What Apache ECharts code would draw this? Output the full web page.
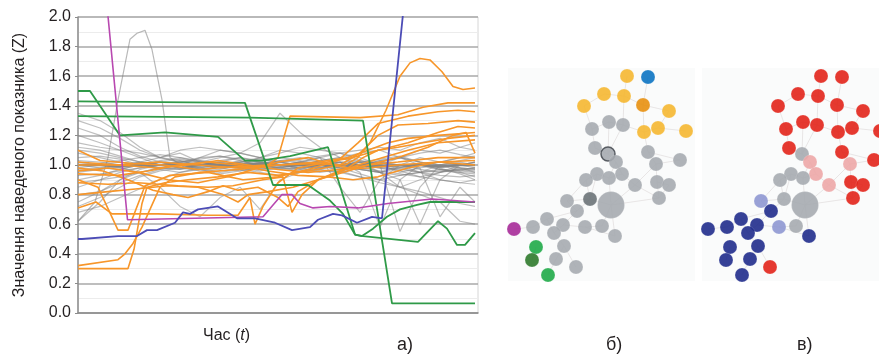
<!DOCTYPE html>
<html><head><meta charset="utf-8">
<script src="https://cdn.jsdelivr.net/npm/echarts@6/dist/echarts.min.js"></script>
<style>html,body{margin:0;padding:0;background:#fff}#c{width:879px;height:356px}</style>
</head><body><div id="c"></div>
<script>
// ---------- panel a) : time series ----------
const hours = [0,22,42,62,82,102,122,142,162,182,202,222,242,262,282,302,322,342,362,382,397];
const grayCentre = [1.0,1.0,0.99,1.0,1.0,1.0,1.0,1.0,1.0,1.01,1.0,1.0,1.0,1.0,1.0,0.99,1.0,1.0,0.99,1.0,1.0];
const grayLines = [
 [1.35,1.3,1.22,1.12,1.05,1.02,1.0,1.03,1.05,1.02,1.0,0.98,1.0,1.02,1.0,0.98,0.97,0.95,0.96,0.95,0.94],
 [1.30,1.25,1.18,1.10,1.05,1.08,1.02,1.0,0.98,1.0,1.03,1.05,1.02,1.0,1.0,1.03,1.05,1.02,1.0,0.98,0.97],
 [1.25,1.2,1.12,1.06,1.02,1.0,1.05,1.1,1.08,1.05,1.1,1.08,1.05,1.0,0.98,1.02,1.0,1.05,1.02,1.0,1.02],
 [1.2,1.15,1.1,1.08,1.05,1.03,1.0,0.98,1.0,1.05,1.02,1.0,1.03,1.05,1.08,1.1,1.05,1.0,1.02,1.05,1.06],
 [1.15,1.12,1.1,1.05,1.0,0.98,1.0,1.02,1.0,0.97,0.98,1.0,1.02,1.0,0.97,0.95,0.98,1.0,0.97,0.96,0.98],
 [1.1,1.08,1.05,1.02,1.0,1.02,1.05,1.06,1.03,1.0,0.98,0.96,0.98,1.0,1.02,1.0,0.98,0.95,0.93,0.92,0.93],
 [1.05,1.06,1.04,1.0,0.98,0.97,0.99,1.0,1.02,1.05,1.08,1.12,1.1,1.08,1.05,1.0,0.96,0.92,0.9,0.88,0.9],
 [0.95,0.97,1.0,1.02,1.05,1.1,1.12,1.1,1.08,1.05,1.0,1.02,1.05,1.08,1.03,1.0,1.05,1.08,1.1,1.07,1.05],
 [0.9,0.93,0.97,1.0,1.02,1.0,0.98,0.95,0.97,1.0,1.02,1.0,0.97,0.95,0.92,0.9,0.93,0.95,0.9,0.88,0.87],
 [0.85,0.9,0.95,0.98,1.0,1.03,1.0,0.98,0.96,0.98,1.0,0.97,0.95,0.97,1.0,1.02,1.0,0.98,1.0,1.02,1.0],
 [0.8,0.82,0.88,0.93,0.97,1.0,1.02,1.0,0.97,0.95,0.93,0.95,0.97,1.0,0.98,0.96,0.94,0.92,0.95,0.97,0.96],
 [0.72,0.78,0.85,0.92,0.96,0.98,1.0,1.02,1.05,1.03,1.0,0.98,1.0,0.96,0.92,0.88,0.85,0.9,0.95,1.0,1.02],
 [0.62,0.75,0.9,0.95,0.98,1.0,0.97,0.94,0.96,0.99,1.0,1.02,0.99,0.97,1.0,1.03,1.05,1.02,1.0,1.03,1.05],
 [1.02,1.0,0.98,0.95,0.85,0.72,0.65,0.78,0.85,0.7,0.9,0.95,1.0,0.98,0.97,0.95,1.0,0.97,0.95,0.98,0.97],
 [0.98,1.0,1.02,1.0,0.98,0.97,1.0,1.02,1.0,0.98,1.0,1.02,1.05,0.85,0.68,0.9,1.0,0.95,1.0,0.96,0.95],
 [1.0,0.98,0.97,1.0,1.02,1.0,0.98,1.0,1.03,1.0,0.98,0.97,1.0,1.02,0.95,0.58,0.9,1.0,0.98,1.0,1.02],
 [0.97,0.98,1.0,1.02,1.0,0.98,0.96,0.97,1.0,1.02,1.0,0.98,0.96,0.95,0.98,1.0,0.55,0.85,1.0,0.98,0.95],
 [1.03,1.02,1.0,0.99,1.02,1.04,1.02,1.0,0.98,0.97,0.99,1.02,1.0,0.98,1.0,0.95,0.9,0.6,0.9,1.0,0.98],
 [0.96,0.97,0.99,1.0,0.97,0.95,0.98,1.0,1.02,1.04,1.02,1.0,0.98,1.0,1.02,1.0,0.95,0.98,0.65,0.85,0.75],
 [1.08,1.05,1.02,1.0,1.03,1.05,1.02,1.0,0.98,0.96,0.98,1.0,1.03,1.05,1.02,0.95,0.85,0.8,0.75,0.62,0.6],
 [0.88,0.9,0.92,0.95,0.98,1.0,1.02,1.05,1.08,1.15,1.35,1.22,1.12,1.05,1.0,1.02,1.05,1.1,1.08,1.12,1.15],
 [0.75,0.82,0.9,0.97,1.0,1.02,1.03,1.0,0.98,1.0,1.02,1.04,1.06,1.08,1.1,1.12,1.1,1.15,1.18,1.12,1.1],
 [0.68,0.72,0.78,0.84,0.9,0.95,0.97,0.99,1.0,1.01,1.03,1.02,1.0,0.98,0.94,0.9,0.85,0.82,0.78,0.74,0.72],
 [1.12,1.1,1.06,1.02,1.0,0.98,0.97,0.99,1.01,1.03,1.05,1.03,1.01,0.99,0.97,0.95,0.93,0.95,0.97,0.95,0.92],
 [0.93,0.94,0.96,0.98,1.0,1.02,1.04,1.06,1.04,1.02,1.0,0.99,0.98,1.0,1.02,1.04,1.06,1.02,0.98,0.94,0.9],
 [1.0,1.01,1.03,1.05,1.07,1.05,1.03,1.01,0.99,0.98,0.97,0.98,1.0,1.02,1.03,1.01,0.99,1.0,1.02,1.05,1.08]
];
const graySpike = [[0,0.62],[17,0.75],[30,1.05],[40,1.44],[52,1.85],[59,1.89],[67,1.91],[74,1.78],[84,1.44],[92,1.05],[107,0.98],[130,1.0],[160,1.02],[190,0.98],[220,1.0],[250,1.03],[280,1.0],[310,0.97],[340,1.0],[370,0.96],[397,0.98]];
const orangeLines = [
 [[0,0.32],[40,0.36],[47,0.40],[55,0.47],[64,0.58],[72,0.70],[82,0.85],[97,0.92],[122,0.95],[160,0.97],[200,1.0],[240,1.02],[270,1.05],[290,1.10],[310,1.15],[330,1.18],[360,1.20],[397,1.22]],
 [[0,0.30],[50,0.30],[56,0.43],[64,0.74],[69,0.85],[87,0.88],[110,0.90],[140,0.92],[170,0.95],[200,0.93],[230,0.96],[262,1.0],[282,1.08],[300,1.20],[320,1.27],[350,1.28],[380,1.30],[397,1.29]],
 [[0,0.90],[20,0.85],[40,0.56],[50,0.56],[67,0.86],[92,0.93],[130,0.95],[165,0.90],[200,0.92],[230,0.97],[260,1.03],[280,1.15],[300,1.28],[330,1.33],[360,1.36],[380,1.37],[397,1.36]],
 [[0,0.71],[18,0.75],[34,0.67],[80,0.67],[130,0.66],[160,0.66],[172,0.78],[177,0.60],[185,0.72],[200,0.88],[220,0.98],[250,1.02],[275,1.05],[300,1.10],[330,1.15],[360,1.22],[380,1.26],[397,1.25]],
 [[0,1.0],[40,1.0],[80,1.02],[120,1.0],[160,0.98],[200,1.0],[240,1.01],[267,1.0],[280,1.05],[292,1.15],[308,1.37],[322,1.60],[332,1.69],[342,1.72],[352,1.71],[364,1.63],[375,1.53],[385,1.51],[397,1.52]],
 [[0,1.10],[22,1.03],[55,1.01],[85,1.0],[120,0.97],[160,0.99],[190,1.0],[200,1.05],[212,1.33],[282,1.32],[320,1.34],[345,1.39],[370,1.42],[397,1.42]],
 [[0,0.96],[30,0.98],[60,0.95],[90,0.90],[120,0.88],[150,0.92],[175,0.97],[200,1.02],[230,1.05],[255,1.0],[270,0.98],[285,1.05],[300,1.10],[320,1.12],[345,1.15],[370,1.18],[397,1.20]],
 [[0,0.88],[30,0.87],[60,0.88],[100,0.86],[130,0.85],[155,0.86],[185,0.90],[205,0.92],[214,0.68],[224,0.80],[240,0.90],[265,0.95],[290,1.0],[320,1.05],[350,1.12],[375,1.20],[388,1.22],[397,1.08]],
 [[0,0.80],[30,0.82],[60,0.84],[90,0.86],[120,0.85],[145,0.80],[160,0.75],[170,0.80],[190,0.82],[215,0.85],[240,0.90],[260,0.95],[280,1.0],[305,1.05],[330,1.10],[360,1.15],[397,1.17]],
 [[0,1.02],[40,1.0],[80,0.98],[110,1.0],[140,1.03],[170,1.0],[200,0.97],[230,0.95],[260,0.97],[290,0.98],[320,1.0],[360,1.02],[397,1.0]],
 [[0,0.94],[40,0.93],[70,0.96],[100,1.0],[130,1.02],[160,1.0],[190,0.96],[220,0.93],[250,0.92],[275,0.90],[300,0.92],[330,0.98],[360,1.02],[397,1.03]],
 [[0,0.98],[25,0.96],[50,0.90],[75,0.83],[95,0.80],[110,0.78],[130,0.82],[145,0.86],[160,0.83],[180,0.85],[200,0.78],[210,0.72],[220,0.82],[240,0.90],[265,0.97],[290,1.0],[320,1.02],[360,1.05],[397,1.05]]
];
const greenLines = [
 [[0,1.50],[12,1.50],[42,1.20],[87,1.22],[140,1.19],[167,1.03],[184,1.03],[212,1.06],[250,1.12],[277,0.53],[284,0.52],[295,0.57],[309,0.65],[322,0.70],[339,0.73],[352,0.75],[397,0.75]],
 [[0,1.43],[167,1.42],[195,0.865],[230,0.865],[252,0.76],[265,0.67],[277,0.53],[285,0.52],[340,0.48],[360,0.62],[369,0.57],[379,0.46],[387,0.46],[397,0.54]],
 [[0,1.33],[172,1.32],[285,1.30],[314,0.065],[397,0.065]]
];
const magentaLine = [[0,2.65],[22,2.57],[49.5,0.63],[185,0.65],[204,0.80],[214,0.80],[222,0.74],[235,0.71],[252,0.72],[280,0.71],[310,0.74],[354,0.77],[397,0.75]];
const blueLine = [[0,0.5],[4,0.5],[40,0.52],[59,0.52],[69,0.56],[79,0.56],[97,0.61],[105,0.68],[112,0.67],[120,0.70],[140,0.72],[159,0.64],[177,0.64],[197,0.61],[214,0.56],[232,0.58],[240,0.63],[255,0.67],[264,0.66],[279,0.61],[294,0.65],[304,0.64],[325,2.02],[330,2.5]];

// ---------- panels б) and в) : networks (layout units) ----------
const nodeX = [132,153,109,129,148,89,174,114,128,97,149,163,191,100,113,153,185,121,161,102,127,114,91,140,162,174,164,72,95,116,82,52,68,90,107,38,19,59,120,41,69,37,61,81,53];
const nodeY = [21,22,39,41,50,51,56,67,70,74,77,73,76,93,99,97,105,107,109,119,119,123,125,130,127,130,143,146,144,150,156,164,170,172,171,172,174,178,181,192,191,205,204,212,220];
const nodeSize = [14,14,14,14,14,14,14,14,14,14,14,14,14,14,14,14,14,14,14,14,14,14,14,14,14,14,14,14,14,27,14,14,14,14,14,14,14,14,14,14,14,14,14,14,14];
const Y='#f5b731', BL='#0b73c2', OR='#e8900f', G='#a6abb0', DG='#6c7378', M='#a62a98', GR='#1faa48', DGR='#2f7a2c';
const R='#e2231a', PK='#eda7a7', NV='#202c8c', LB='#8e97d2';
const colorB = [Y,BL,Y,Y,OR,Y,Y,G,G,G,Y,Y,Y,G,G,G,G,G,G,G,G,G,G,G,G,G,G,G,DG,G,G,G,G,G,G,G,M,G,G,GR,G,DGR,G,G,GR];
const colorV = [R,R,R,R,R,R,R,R,R,R,R,R,R,R,G,R,R,PK,PK,G,PK,G,G,PK,R,R,R,LB,G,G,NV,NV,NV,LB,G,NV,NV,NV,NV,NV,NV,NV,NV,R,NV];
const links = [[0,3],[1,4],[2,3],[2,5],[3,4],[4,6],[3,8],[5,9],[7,8],[7,9],[8,10],[4,10],[10,11],[11,12],[6,11],[9,13],[13,14],[14,17],[14,7],[8,14],[10,15],[15,18],[15,16],[16,18],[17,20],[17,21],[18,24],[18,23],[19,21],[19,22],[20,21],[20,23],[21,29],[22,28],[23,26],[24,25],[24,26],[25,26],[23,29],[28,29],[27,28],[27,30],[28,30],[29,34],[29,38],[30,31],[30,32],[31,35],[32,33],[33,34],[32,37],[33,38],[35,36],[31,37],[37,40],[40,42],[40,43],[39,41],[42,44],[22,27],[26,29],[19,28]];

const FONT = "'Liberation Sans Narrow','Liberation Sans',Arial,sans-serif";
const FONT2 = "'Liberation Sans',Arial,sans-serif";

const lineSeries = [];
grayLines.forEach(v => lineSeries.push({type:'line', data: hours.map((h,i)=>[h,v[i]]), symbol:'none', lineStyle:{color:'rgba(128,128,128,0.5)', width:1.2}, z:2}));
lineSeries.push({type:'line', data: graySpike, symbol:'none', lineStyle:{color:'rgba(128,128,128,0.55)', width:1.2}, z:2});
lineSeries.push({type:'line', data: hours.map((h,i)=>[h,grayCentre[i]]), symbol:'none', lineStyle:{color:'#858585', width:2.6}, z:2});
orangeLines.forEach(d => lineSeries.push({type:'line', data:d, symbol:'none', lineStyle:{color:'#f7962a', width:1.6}, z:3}));
greenLines.forEach(d => lineSeries.push({type:'line', data:d, symbol:'none', lineStyle:{color:'#2f9a48', width:1.8}, z:4}));
lineSeries.push({type:'line', data: magentaLine, symbol:'none', lineStyle:{color:'#b848b0', width:1.6}, z:4});
lineSeries.push({type:'line', data: blueLine, symbol:'none', lineStyle:{color:'#4c4cb6', width:1.8}, z:5});

function netSeries(idx, colors){
  return {type:'graph', coordinateSystem:'cartesian2d', xAxisIndex:idx, yAxisIndex:idx,
    data: nodeX.map((x,i)=>({value:[x,nodeY[i]], symbolSize:nodeSize[i],
      itemStyle:{color:colors[i], opacity:0.9, borderColor: (idx===1 && i===14)?'#4a4f55':'rgba(255,255,255,0.3)', borderWidth:(idx===1 && i===14)?1.5:0.5}})),
    links: links.map(([s,t])=>({source:s,target:t})),
    lineStyle:{color:'#dcd6d6', width:0.6, opacity:1},
    label:{show:false}, emphasis:{disabled:true}, silent:true, z:3};
}

const chart = echarts.init(document.getElementById('c'), null, {renderer:'canvas'});
chart.setOption({
  animation:false,
  backgroundColor:'#ffffff',
  title:[
    {text:'Час ({i|t})', left:203, top:328, textStyle:{fontSize:16, fontWeight:'normal', color:'#231f20', fontFamily:FONT, rich:{i:{fontStyle:'italic', fontSize:16, fontFamily:FONT, color:'#231f20'}}}, padding:0},
    {text:'а)', left:397, top:336, textStyle:{fontSize:18, fontWeight:'normal', color:'#231f20', fontFamily:FONT2}, padding:0},
    {text:'б)', left:606, top:336, textStyle:{fontSize:18, fontWeight:'normal', color:'#231f20', fontFamily:FONT2}, padding:0},
    {text:'в)', left:797, top:336, textStyle:{fontSize:18, fontWeight:'normal', color:'#231f20', fontFamily:FONT2}, padding:0}
  ],
  grid:[
    {left:78, top:17, width:400, height:296, show:true, borderColor:'#d6d6d6', borderWidth:1, outerBoundsMode:'none'},
    {left:508, top:68, width:187, height:213, show:true, backgroundColor:'#fafbfb', borderWidth:0, outerBoundsMode:'none'},
    {left:702, top:68, width:177, height:213, show:true, backgroundColor:'#fafbfb', borderWidth:0, outerBoundsMode:'none'}
  ],
  xAxis:[
    {gridIndex:0, type:'value', min:0, max:400, axisLabel:{show:false}, axisTick:{show:false},
     axisLine:{show:true, onZero:false, lineStyle:{color:'#8c8c8c', width:1.5}}, splitLine:{show:false}},
    {gridIndex:1, type:'value', min:13, max:200, show:false},
    {gridIndex:2, type:'value', min:13, max:190, show:false}
  ],
  yAxis:[
    {gridIndex:0, type:'value', min:0, max:2, interval:0.2,
     axisLine:{show:true, lineStyle:{color:'#8c8c8c', width:1.5}},
     axisTick:{show:true, length:3, lineStyle:{color:'#8c8c8c'}},
     axisLabel:{formatter:v=>v.toFixed(1), fontSize:16, color:'#231f20', margin:7, fontFamily:FONT},
     splitLine:{show:true, lineStyle:{color:'#a8a8a8', width:1.5}},
     minorTick:{show:false, splitNumber:2},
     minorSplitLine:{show:true, lineStyle:{color:'#ececec', width:1}},
     name:'Значення наведеного показника (Z)', nameLocation:'middle', nameGap:50, nameRotate:90,
     nameTextStyle:{fontSize:16, color:'#231f20', fontFamily:FONT}},
    {gridIndex:1, type:'value', min:13, max:226, inverse:true, show:false},
    {gridIndex:2, type:'value', min:13, max:226, inverse:true, show:false}
  ],
  series: lineSeries.concat([netSeries(1, colorB), netSeries(2, colorV)])
});
</script></body></html>
